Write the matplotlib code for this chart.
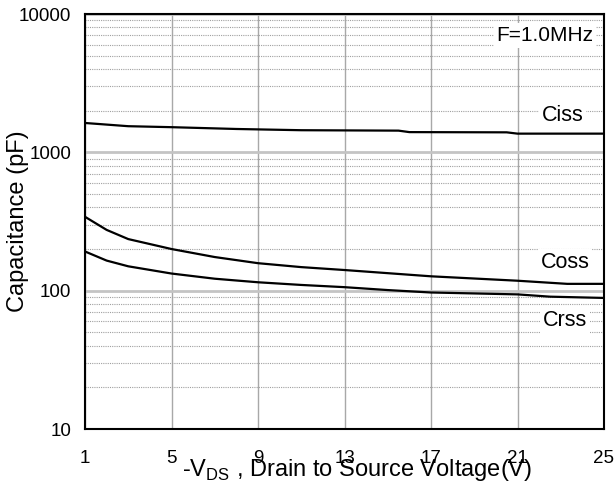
import matplotlib
matplotlib.use("Agg")
import matplotlib.pyplot as plt
from matplotlib.ticker import FixedLocator, NullFormatter, LogLocator

plt.rcParams['font.family'] = ['Liberation Sans', 'DejaVu Sans']

ciss_v = [1, 3, 5, 8, 11, 15.5, 16, 20.5, 21, 25]
ciss = [1630, 1545, 1520, 1475, 1445, 1435, 1400, 1395, 1365, 1365]

coss_v = [1, 2, 3, 5, 7, 9, 11, 13, 17, 21, 23.3, 25]
coss = [342, 275, 236, 200, 175, 158, 148, 141, 127, 118, 112, 112]

crss_v = [1, 2, 3, 5, 7, 9, 11, 13, 15, 17, 21, 22.5, 25]
crss = [192, 165, 150, 133, 122, 115, 110, 106, 101, 97, 94, 90.5, 88.6]

x_ticks = [1, 5, 9, 13, 17, 21, 25]
y_ticks = [10, 100, 1000, 10000]
y_tick_labels = ['10', '100', '1000', '10000']

fig = plt.figure(figsize=(6.15, 4.87), dpi=100)
ax = fig.add_axes([85/615, 1-429/487, (604-85)/615, (429-14)/487])

ax.set_yscale('log')
ax.set_xlim(1, 25)
ax.set_ylim(10, 10000)

ax.xaxis.set_major_locator(FixedLocator(x_ticks))
ax.yaxis.set_major_locator(FixedLocator(y_ticks))
ax.set_yticklabels(y_tick_labels)
ax.yaxis.set_minor_locator(LogLocator(base=10, subs=range(2, 10)))
ax.yaxis.set_minor_formatter(NullFormatter())

ax.grid(True, which='major', axis='x', color='#a8a8a8', lw=1.0)
ax.grid(True, which='major', axis='y', color='#c4c4c4', lw=2.0)
ax.grid(True, which='minor', axis='y', color='#a0a0a0', lw=0.8, ls=(0, (1, 1)))
ax.set_axisbelow(True)

ax.tick_params(which='both', length=0)
ax.tick_params(axis='x', pad=15, labelsize=13.5)
ax.tick_params(axis='y', pad=10, labelsize=13.5)

for s in ax.spines.values():
    s.set_linewidth(1.5)
    s.set_color('black')

ax.plot(ciss_v, ciss, color='black', lw=1.6)
ax.plot(coss_v, coss, color='black', lw=1.6)
ax.plot(crss_v, crss, color='black', lw=1.6)

bb = dict(facecolor='white', edgecolor='none', pad=2)
ax.text(22.27, 7000, 'F=1.0MHz', fontsize=15, ha='center', va='center', bbox=bb)
ax.text(23.08, 1850, 'Ciss', fontsize=15.5, ha='center', va='center', bbox=bb)
ax.text(23.2, 161, 'Coss', fontsize=15.5, ha='center', va='center', bbox=bb)
ax.text(23.2, 61, 'Crss', fontsize=15.5, ha='center', va='center', bbox=bb)

ax.set_ylabel('Capacitance (pF)', fontsize=17)
ax.yaxis.set_label_coords((18 - 85) / 519, 0.5)
ax.set_xlabel(r'-V$_{\mathregular{DS}}$ , Drain to Source Voltage(V)', fontsize=17)
ax.xaxis.set_label_coords((357 - 85) / 519, -(470 - 429) / 415)
ax.xaxis.label.set_va('center')
ax.yaxis.label.set_va('center')

fig.savefig('out.png', dpi=100)
